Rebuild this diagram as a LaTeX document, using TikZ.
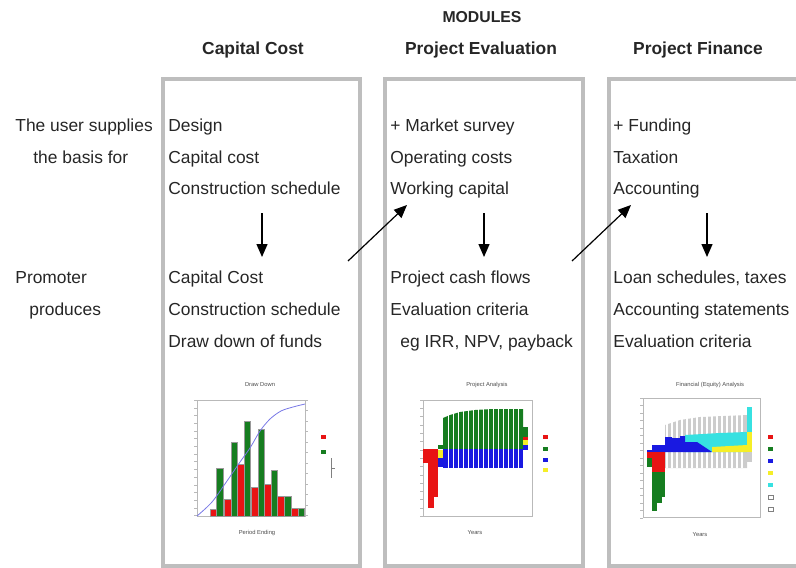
\documentclass[tikz,border=0pt]{standalone}
\usepackage{fontspec}
\setmainfont{Liberation Sans}
\usetikzlibrary{arrows.meta}
\definecolor{boxgray}{RGB}{190,190,190}
\definecolor{barred}{RGB}{232,20,20}
\definecolor{bargreen}{RGB}{22,125,32}
\definecolor{barblue}{RGB}{25,25,225}
\definecolor{baryellow}{RGB}{245,238,40}
\definecolor{barcyan}{RGB}{55,225,225}
\definecolor{curveblue}{RGB}{120,120,230}

\begin{document}
\begin{tikzpicture}[x=0.5pt,y=-0.5pt,
  every node/.style={inner sep=0pt,text=black!85,font=\fontsize{8.7}{10}\selectfont},
  module/.style={draw=boxgray,line width=1.8pt},
  head/.style={font=\fontsize{8.7}{10}\selectfont\bfseries},
  item/.style={anchor=base west},
  flow/.style={-{Triangle[length=6.5pt,width=5.5pt]},line width=0.7pt},
  plotframe/.style={draw=gray!55,line width=0.2pt},
  tiny/.style={font=\fontsize{2.9}{3}\selectfont,text=black!70}]
\useasboundingbox (0,0) rectangle (796,567);
\clip (0,0) rectangle (796,567);

\draw[module] (163,79) rectangle (360,566);
\draw[module] (385,79) rectangle (583,566);
\draw[module] (609,79) rectangle (806,566);

\node[head,font=\fontsize{7.9}{9}\selectfont\bfseries] (modules) at (482,17) {MODULES};
\node[head] (capital) at (253,50) {Capital Cost};
\node[head] (evaluation) at (481,50) {Project Evaluation};
\node[head] (finance) at (698,50) {Project Finance};

\node[item] (user1) at (15,131) {The user supplies};
\node[item] (user2) at (33,163) {the basis for};
\node[item] (prom1) at (15,283) {Promoter};
\node[item] (prom2) at (29,315) {produces};

\node[item] (cc1) at (168,131) {Design};
\node[item] (cc2) at (168,163) {Capital cost};
\node[item] (cc3) at (168,194) {Construction schedule};
\node[item] (cc4) at (168,283) {Capital Cost};
\node[item] (cc5) at (168,315) {Construction schedule};
\node[item] (cc6) at (168,347) {Draw down of funds};

\node[item] (pe1) at (390,131) {+ Market survey};
\node[item] (pe2) at (390,163) {Operating costs};
\node[item] (pe3) at (390,194) {Working capital};
\node[item] (pe4) at (390,283) {Project cash flows};
\node[item] (pe5) at (390,315) {Evaluation criteria};
\node[item] (pe6) at (400,347) {eg IRR, NPV, payback};

\node[item] (pf1) at (613,131) {+ Funding};
\node[item] (pf2) at (613,163) {Taxation};
\node[item] (pf3) at (613,194) {Accounting};
\node[item] (pf4) at (613,283) {Loan schedules, taxes};
\node[item] (pf5) at (613,315) {Accounting statements};
\node[item] (pf6) at (613,347) {Evaluation criteria};

\coordinate (cctop) at (262,213);
\coordinate (ccbot) at (262,257);
\coordinate (petop) at (484,213);
\coordinate (pebot) at (484,257);
\coordinate (pftop) at (707,213);
\coordinate (pfbot) at (707,257);
\coordinate (ccout) at (348,261);
\coordinate (pein) at (407,205);
\coordinate (peout) at (572,261);
\coordinate (pfin) at (631,205);
\draw[flow] (cctop) -- (ccbot);
\draw[flow] (petop) -- (pebot);
\draw[flow] (pftop) -- (pfbot);
\draw[flow,line width=0.6pt] (ccout) -- (pein);
\draw[flow,line width=0.6pt] (peout) -- (pfin);

% draw down chart
\node[tiny] (ddtitle) at (260,385) {Draw Down};
\draw[plotframe] (197,400) rectangle (305,516);
\foreach \y in {400,407.7,...,517} \draw[plotframe] (194,\y) -- (197,\y);
\foreach \y in {400,410.5,...,517} \draw[plotframe] (305,\y) -- (308,\y);
\foreach \a/\b/\t in {210/216/509,224/231/499,237/244/464,251/258/487,264/271/484,277/284/496,291/298/508}
  \filldraw[fill=barred,draw=black!40,line width=0.1pt] (\a,\t) rectangle (\b,516);
\foreach \a/\b/\t in {216/223/468,231/237/442,244/250/421,258/264/429,271/277/470,284/291/496,298/304/508}
  \filldraw[fill=bargreen,draw=black!40,line width=0.1pt] (\a,\t) rectangle (\b,516);
\draw[curveblue,line width=0.4pt] plot[smooth] coordinates {(197,516) (212,502) (227,481) (240,462) (250,448) (260,431) (270,419) (281,411) (293,407) (305,404)};
\fill[barred] (321,435) rectangle (326,439);
\fill[bargreen] (321,450) rectangle (326,454);
\draw[plotframe,draw=gray] (331,458) -- (331,478) (331,468) -- (335,468);
\node[tiny] (ddaxis) at (257,533) {Period Ending};

% project analysis chart
\node[tiny] (patitle) at (487,385) {Project Analysis};
\draw[plotframe] (423,400) rectangle (532,516);
\foreach \y in {400,408.3,...,517} \draw[plotframe] (420,\y) -- (423,\y);
\fill[barred] (423,449) rectangle (428,463);
\fill[barred] (428,449) rectangle (434,508);
\fill[barred] (434,449) rectangle (438,497);
\fill[bargreen] (438,445) rectangle (443,449);
\fill[baryellow] (438,450) rectangle (443,458);
\fill[barblue] (438,458) rectangle (443,467);
\fill[bargreen] (443,449) -- (443,418) -- (450,415) -- (460,412) -- (475,410) -- (492,409) -- (523,409) -- (523,449) -- cycle;
\fill[barblue] (443,449) rectangle (523,468);
\foreach \x in {448,453,...,520} \draw[white,line width=0.25pt] (\x,405) -- (\x,468);
\fill[bargreen] (523,427) rectangle (528,437);
\fill[barred] (523,437) rectangle (528,440);
\fill[baryellow] (523,440) rectangle (528,445);
\fill[barblue] (523,445) rectangle (528,450);
\fill[barred] (543,435) rectangle (548,439);
\fill[bargreen] (543,447) rectangle (548,451);
\fill[barblue] (543,458) rectangle (548,462);
\fill[baryellow] (543,468) rectangle (548,472);
\node[tiny] (paaxis) at (475,533) {Years};

% financial analysis chart
\node[tiny] (fatitle) at (710,385) {Financial (Equity) Analysis};
\draw[plotframe] (643,398) rectangle (760,517);
\foreach \y in {398,405.5,...,518} \draw[plotframe] (640,\y) -- (643,\y);
\fill[gray!40] (665,468) -- (665,425) -- (680,420) -- (700,417) -- (747,415) -- (747,468) -- cycle;
\foreach \x in {667,672,...,746} \draw[white,line width=0.8pt] (\x,412) -- (\x,468);
\fill[barcyan] (685,452) -- (685,435) -- (720,433) -- (747,432) -- (747,452) -- cycle;
\fill[baryellow] (712,452) -- (712,447) -- (747,445) -- (747,452) -- cycle;
\fill[barblue] (647,452) -- (647,450) -- (652,450) -- (652,445) -- (665,445) -- (665,437) -- (672,437) -- (672,438) -- (680,438) -- (680,436) -- (685,436) -- (685,442) -- (697,442) -- (712,452) -- cycle;
\fill[barred] (647,452) rectangle (652,458);
\fill[bargreen] (647,458) rectangle (652,467);
\fill[barred] (652,452) rectangle (665,472);
\fill[bargreen] (652,472) rectangle (657,511);
\fill[bargreen] (657,472) rectangle (662,503);
\fill[bargreen] (662,472) rectangle (665,497);
\fill[barcyan] (747,407) rectangle (752,432);
\fill[baryellow] (747,432) rectangle (752,452);
\fill[gray!40] (747,452) rectangle (752,462);
\fill[barred] (768,435) rectangle (773,439);
\fill[bargreen] (768,447) rectangle (773,451);
\fill[barblue] (768,459) rectangle (773,463);
\fill[baryellow] (768,471) rectangle (773,475);
\fill[barcyan] (768,483) rectangle (773,487);
\draw[plotframe,draw=gray] (768,495) rectangle (773,499);
\draw[plotframe,draw=gray] (768,507) rectangle (773,511);
\node[tiny] (faaxis) at (700,535) {Years};
\end{tikzpicture}
\end{document}
